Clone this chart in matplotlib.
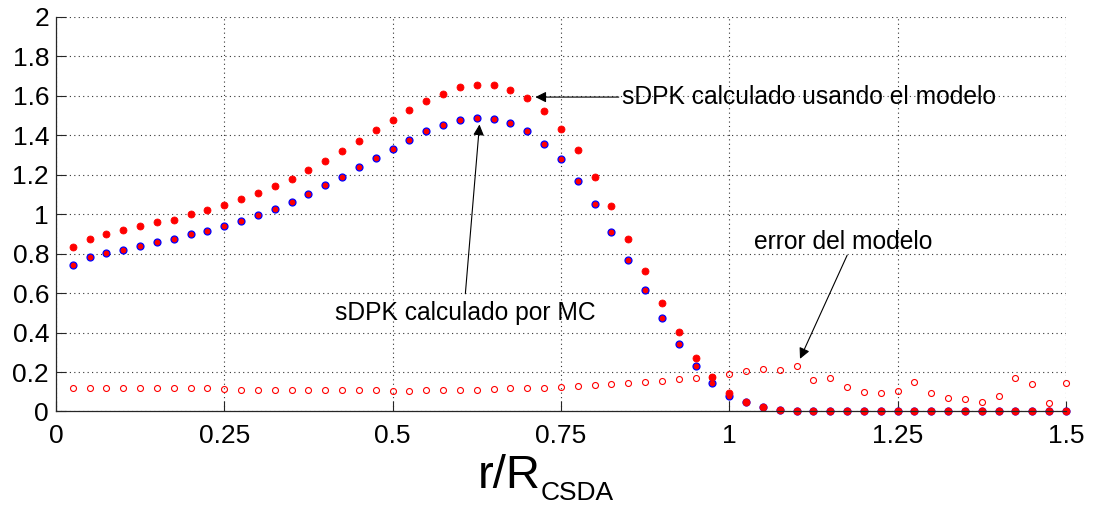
import matplotlib
matplotlib.use('Agg')
import matplotlib.pyplot as plt

plt.rcParams['font.family'] = ['Liberation Sans', 'DejaVu Sans']

# r / R_CSDA sample positions
r = [0.025, 0.05, 0.075, 0.1, 0.125, 0.15, 0.175, 0.2, 0.225, 0.25,
     0.275, 0.3, 0.325, 0.35, 0.375, 0.4, 0.425, 0.45, 0.475, 0.5,
     0.525, 0.55, 0.575, 0.6, 0.625, 0.65, 0.675, 0.7, 0.725, 0.75,
     0.775, 0.8, 0.825, 0.85, 0.875, 0.9, 0.925, 0.95, 0.975, 1.0,
     1.025, 1.05, 1.075, 1.1, 1.125, 1.15, 1.175, 1.2, 1.225, 1.25,
     1.275, 1.3, 1.325, 1.35, 1.375, 1.4, 1.425, 1.45, 1.475, 1.5]

# sDPK calculado usando el modelo
sdpk_model = [0.834, 0.877, 0.898, 0.919, 0.939, 0.959, 0.973, 1.000, 1.020, 1.047,
              1.079, 1.109, 1.141, 1.181, 1.223, 1.269, 1.320, 1.372, 1.425, 1.476,
              1.526, 1.574, 1.612, 1.643, 1.653, 1.653, 1.629, 1.589, 1.523, 1.434,
              1.327, 1.191, 1.042, 0.877, 0.711, 0.551, 0.401, 0.272, 0.174, 0.096,
              0.047, 0.022, 0.008, 0.004, 0.003, 0.002, 0.002, 0.002, 0.002, 0.001,
              0.001, 0.001, 0.001, 0.001, 0.001, 0.001, 0.001, 0.001, 0.001, 0.001]

# sDPK calculado por MC
sdpk_mc = [0.741, 0.783, 0.805, 0.821, 0.841, 0.858, 0.877, 0.898, 0.917, 0.938,
           0.964, 0.995, 1.029, 1.062, 1.103, 1.146, 1.191, 1.239, 1.284, 1.330,
           1.377, 1.420, 1.452, 1.477, 1.487, 1.482, 1.462, 1.421, 1.357, 1.278,
           1.171, 1.052, 0.912, 0.767, 0.618, 0.474, 0.343, 0.230, 0.144, 0.081,
           0.046, 0.021, 0.007, 0.003, 0.002, 0.002, 0.002, 0.002, 0.001, 0.001,
           0.001, 0.001, 0.001, 0.001, 0.001, 0.001, 0.001, 0.001, 0.001, 0.001]

# error del modelo
error = [0.117, 0.117, 0.117, 0.117, 0.117, 0.117, 0.117, 0.117, 0.117, 0.112,
         0.110, 0.110, 0.110, 0.110, 0.110, 0.110, 0.110, 0.110, 0.110, 0.104,
         0.103, 0.110, 0.110, 0.110, 0.110, 0.116, 0.117, 0.119, 0.121, 0.124,
         0.129, 0.135, 0.140, 0.145, 0.152, 0.157, 0.167, 0.172, 0.174, 0.188,
         0.205, 0.217, 0.210, 0.230, 0.162, 0.169, 0.122, 0.100, 0.095, 0.105,
         0.147, 0.095, 0.070, 0.064, 0.049, 0.080, 0.172, 0.137, 0.044, 0.142]

xticks = [0, 0.25, 0.5, 0.75, 1, 1.25, 1.5]
xticklabels = ['0', '0.25', '0.5', '0.75', '1', '1.25', '1.5']
yticks = [0, 0.2, 0.4, 0.6, 0.8, 1, 1.2, 1.4, 1.6, 1.8, 2]
yticklabels = ['0', '0.2', '0.4', '0.6', '0.8', '1', '1.2', '1.4', '1.6', '1.8', '2']

fig = plt.figure(figsize=(10.95, 5.12), dpi=100)
ax = fig.add_axes([0.0511, 0.1963, 0.9224, 0.7705])

ax.plot(r, error, 'o', ms=4.3, mfc='none', mec='red', mew=0.8, clip_on=False)
ax.plot(r, sdpk_mc, 'o', ms=5, mfc='red', mec='blue', mew=0.9, clip_on=False)
ax.plot(r, sdpk_model, 'o', ms=5, mfc='red', mec='red', mew=0.6, clip_on=False)

ax.set_xlim(0, 1.5)
ax.set_ylim(0, 2)
ax.set_xticks(xticks)
ax.set_xticklabels(xticklabels)
ax.set_yticks(yticks)
ax.set_yticklabels(yticklabels)
ax.tick_params(direction='in', length=7, width=0.8, labelsize=19, colors='#262626')
ax.tick_params(axis='x', pad=9, labelcolor='black')
ax.tick_params(axis='y', pad=5, labelcolor='black')
ax.grid(True, color='#333333', linestyle=(0, (1, 3)), linewidth=0.8)
ax.spines['top'].set_visible(False)
ax.spines['right'].set_visible(False)
for s in ('left', 'bottom'):
    ax.spines[s].set_color('#262626')
    ax.spines[s].set_linewidth(0.9)

# x label: r/R with CSDA subscript
fig.text(0.4365, 0.0469, 'r/R', fontsize=34, ha='left', va='baseline')
fig.text(0.4935, 0.024, 'CSDA', fontsize=19, ha='left', va='baseline')

arrow = dict(arrowstyle='-|>', color='black', lw=0.8, mutation_scale=16,
             shrinkA=0, shrinkB=0)
ax.annotate('sDPK calculado usando el modelo', xy=(0.712, 1.594), xytext=(0.84, 1.594),
            fontsize=17.7, va='center', ha='left', arrowprops=arrow)
ax.annotate('', xy=(0.629, 1.455), xytext=(0.608, 0.597), arrowprops=arrow)
ax.text(0.608, 0.50, 'sDPK calculado por MC', fontsize=17.7, ha='center', va='center')
ax.annotate('', xy=(1.105, 0.267), xytext=(1.175, 0.792), arrowprops=arrow)
ax.text(1.169, 0.86, 'error del modelo', fontsize=17.7, ha='center', va='center')

fig.savefig('out.png', dpi=100)
